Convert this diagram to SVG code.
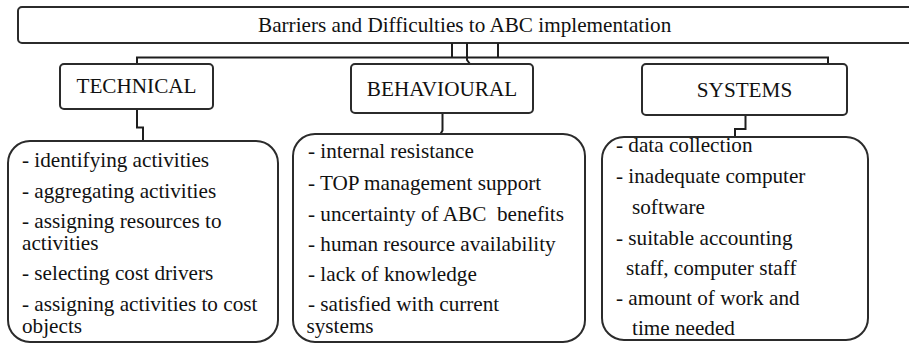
<svg xmlns="http://www.w3.org/2000/svg" width="909" height="344" viewBox="0 0 909 344">
<style>
.box{fill:#fff;stroke:#2b2b2b;stroke-width:2}
.ln{fill:none;stroke:#1e1e1e;stroke-width:2}
text{font-family:"Liberation Serif","Times New Roman",serif;font-size:21.2px;fill:#111}
.c{text-anchor:middle}
</style>
<rect width="909" height="344" fill="#fff"/>
<g id="title">
<rect class="box" x="18" y="7" width="905" height="36" rx="4"/>
<text x="258" y="32">Barriers and Difficulties to ABC implementation</text>
</g>
<g id="connectors">
<path class="ln" d="M137,63 V57.5 H828 V63"/>
<path class="ln" d="M452,43 V57.5 M498,43 V57.5 M467,43 V60 L470,64"/>
<path class="ln" d="M137,109 V127.5 H143 V141"/>
<path class="ln" d="M442.5,113 V130.5 L440.5,134"/>
<path class="ln" d="M745.5,115 V129 H735 V137"/>
</g>
<g id="technical">
<rect class="box" x="60" y="64" width="153" height="45" rx="4"/>
<text class="c" x="136.5" y="93">TECHNICAL</text>
</g>
<g id="behavioural">
<rect class="box" x="351" y="64" width="182" height="49" rx="4"/>
<text class="c" x="442" y="95.5">BEHAVIOURAL</text>
</g>
<g id="systems">
<rect class="box" x="642" y="64" width="205" height="51" rx="4"/>
<text class="c" x="744.5" y="96.5">SYSTEMS</text>
</g>
<g id="technical-items">
<rect class="box" x="8" y="141" width="270" height="201" rx="22"/>
<text x="22" y="166.5">- identifying activities</text>
<text x="22" y="198">- aggregating activities</text>
<text x="22" y="228">- assigning resources to</text>
<text x="22" y="250">activities</text>
<text x="22" y="280">- selecting cost drivers</text>
<text x="22" y="311">- assigning activities to cost</text>
<text x="22" y="332.5">objects</text>
</g>
<g id="behavioural-items">
<rect class="box" x="293" y="134" width="292" height="208" rx="22"/>
<text x="308" y="158">- internal resistance</text>
<text x="308" y="190">- TOP management support</text>
<text x="308" y="221" xml:space="preserve">- uncertainty of ABC  benefits</text>
<text x="308" y="251">- human resource availability</text>
<text x="308" y="281">- lack of knowledge</text>
<text x="308" y="311">- satisfied with current</text>
<text x="306.5" y="332.5">systems</text>
</g>
<g id="systems-items">
<rect class="box" x="602" y="137" width="266" height="203" rx="22"/>
<text x="616" y="151.5">- data collection</text>
<text x="616" y="183">- inadequate computer</text>
<text x="632" y="214">software</text>
<text x="616" y="244.5">- suitable accounting</text>
<text x="626" y="275">staff, computer staff</text>
<text x="616" y="305">- amount of work and</text>
<text x="632" y="335">time needed</text>
</g>
</svg>
